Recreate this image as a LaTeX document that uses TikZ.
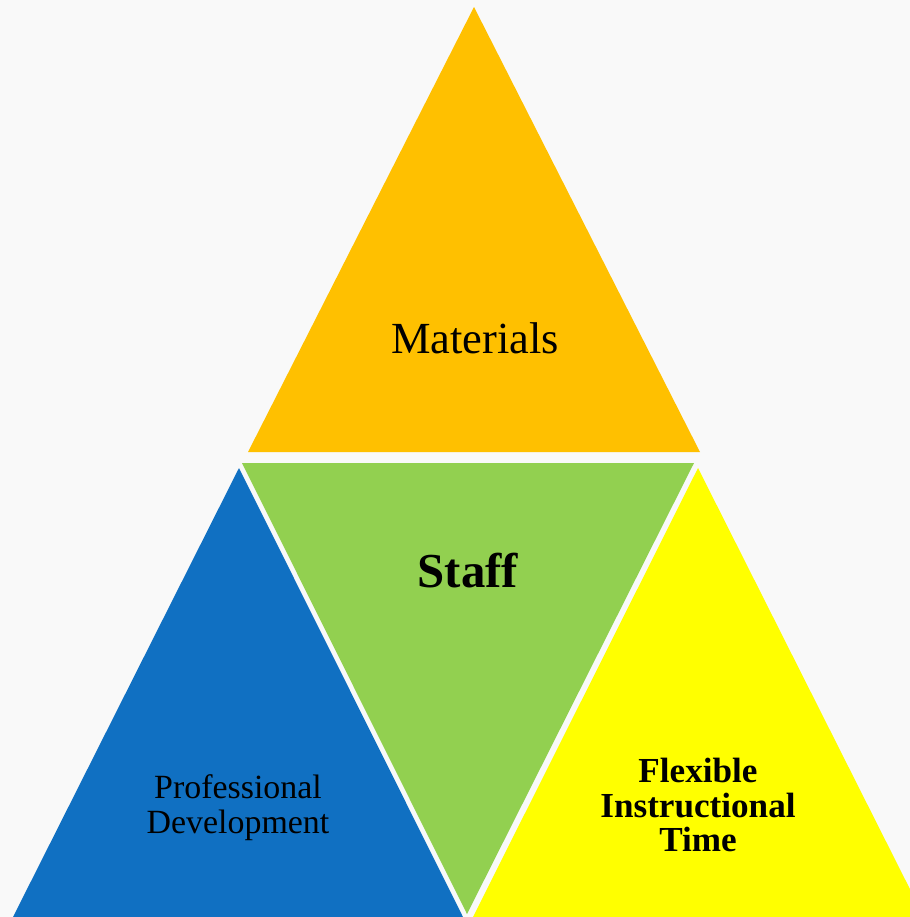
\documentclass[tikz,border=0pt]{standalone}
\usepackage{fontspec}
\setmainfont{Liberation Serif}
\definecolor{matcol}{HTML}{FFC000}
\definecolor{staffcol}{HTML}{92D050}
\definecolor{profcol}{HTML}{1070C2}
\definecolor{flexcol}{HTML}{FFFF00}
\definecolor{bgcol}{HTML}{F9F9F9}
\begin{document}
\begin{tikzpicture}[x=0.02cm,y=-0.02cm]
	\tikzstyle{tri}=[draw=none]
	\tikzstyle{label}=[inner sep=0pt, text=black, align=center]

	\def \basetop{452}
	\def \basemid{463}
	\def \basebot{917}

	\useasboundingbox (0,0) rectangle (910,917);
	\fill[bgcol] (0,0) rectangle (910,917);
	\clip (0,0) rectangle (910,917);

	% corners of the four triangles
	\coordinate (m-top)	at (474,7);
	\coordinate (m-left)	at (248,\basetop);
	\coordinate (m-right)	at (700,\basetop);

	\coordinate (s-left)	at (242,\basemid);
	\coordinate (s-right)	at (694,\basemid);
	\coordinate (s-bot)	at (467,914);

	\coordinate (p-top)	at (239,468);
	\coordinate (p-left)	at (13,\basebot);
	\coordinate (p-right)	at (463,\basebot);

	\coordinate (f-top)	at (698,468);
	\coordinate (f-left)	at (473,\basebot);
	\coordinate (f-right)	at (924,\basebot);

	\fill[tri,matcol]	(m-top) -- (m-left) -- (m-right) -- cycle;
	\fill[tri,staffcol]	(s-left) -- (s-right) -- (s-bot) -- cycle;
	\fill[tri,profcol]	(p-top) -- (p-left) -- (p-right) -- cycle;
	\fill[tri,flexcol]	(f-top) -- (f-left) -- (f-right) -- cycle;

	\node[label,anchor=base,font=\fontsize{25.3}{30}\selectfont] (mat)	at (475,353)	{Materials};
	\node[label,anchor=base,font=\fontsize{27.8}{32}\selectfont\bfseries] (staff)	at (468,587)	{Staff};
	\node[label,font=\fontsize{19.3}{20}\selectfont] (prof)	at (238,808)	{Professional\\Development};
	\node[label,font=\fontsize{20}{19.6}\selectfont\bfseries] (flex)	at (698,805)	{Flexible\\Instructional\\Time};
\end{tikzpicture}
\end{document}
